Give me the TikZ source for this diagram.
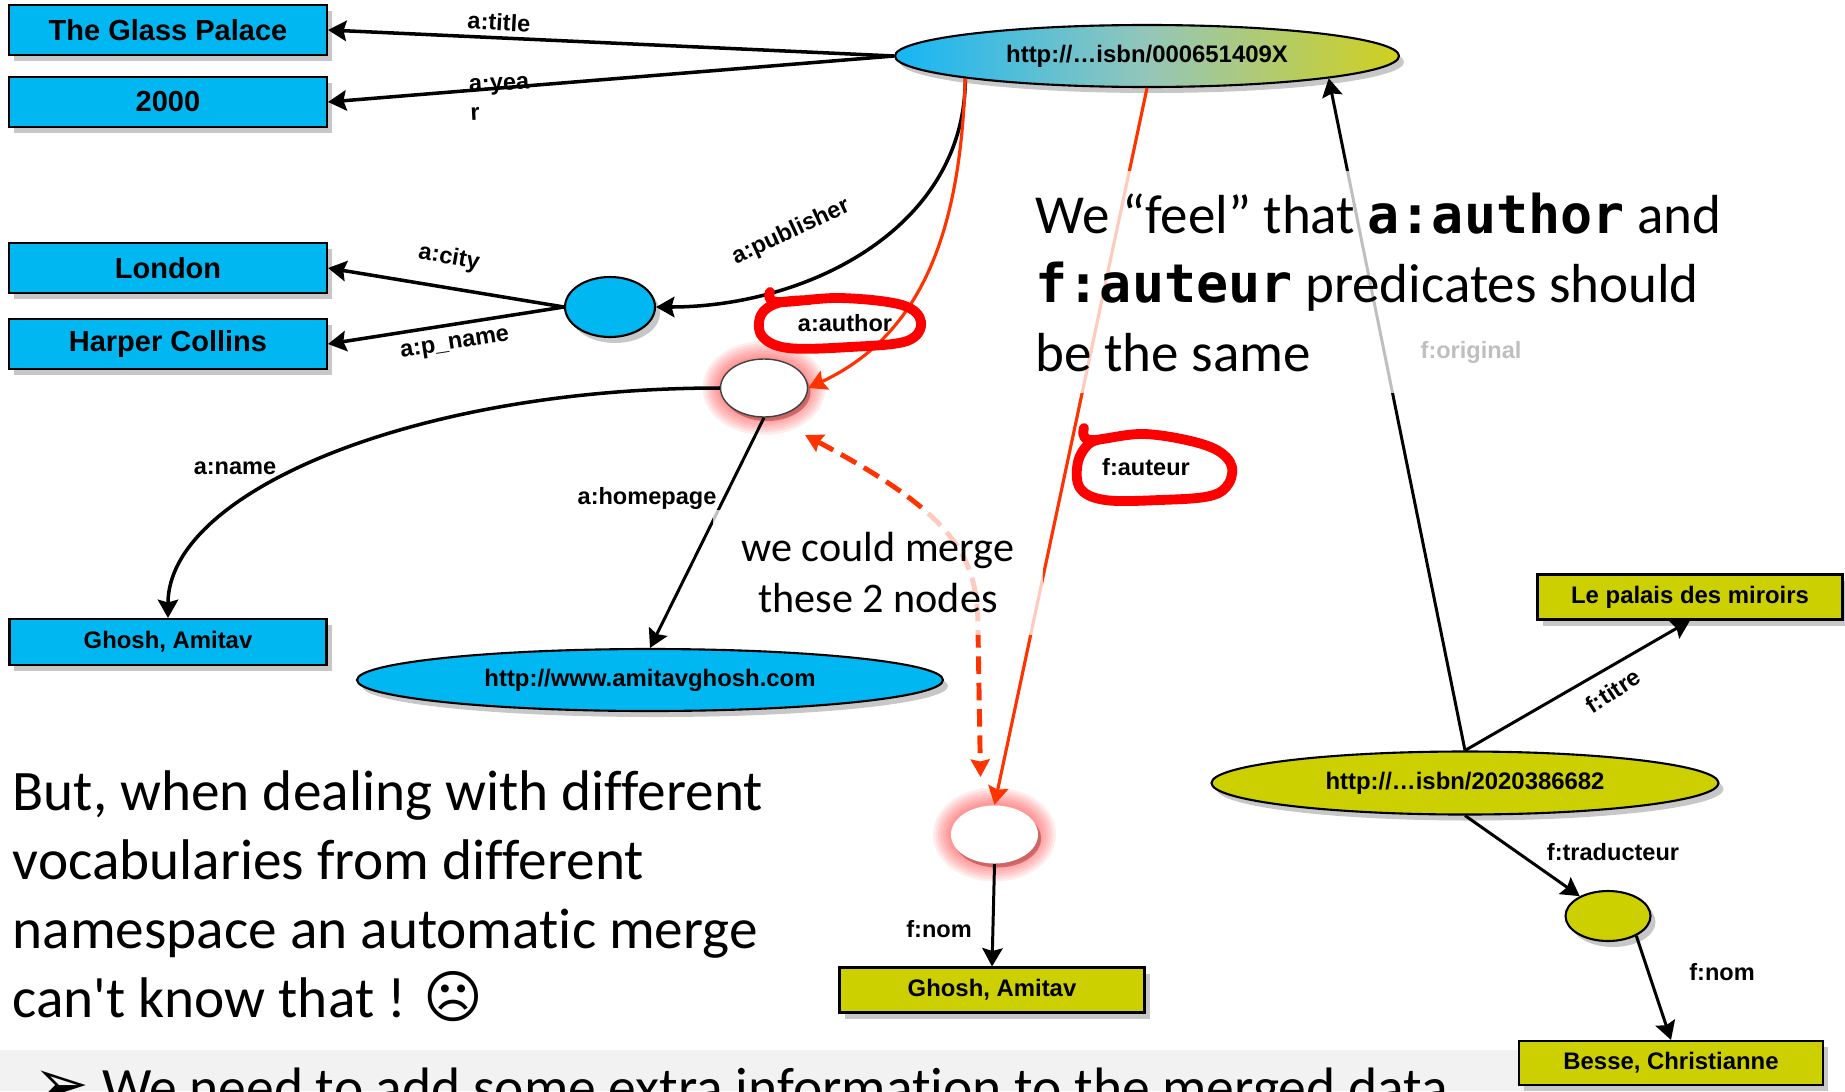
\documentclass[tikz,border=0pt]{standalone}
\usepackage{fontspec}
\setmainfont{Carlito}[Ligatures={TeX,NoCommon}]
\setmonofont{DejaVu Sans Mono}[Scale=0.97]
\newfontfamily\arialfont{Liberation Sans}
\newfontfamily\symbfont{DejaVu Sans}
\usepackage{tikz}
\usetikzlibrary{arrows.meta,positioning,shapes.geometric,shadows,calc}

\definecolor{rdfblue}{RGB}{0,183,242}
\definecolor{rdfyellow}{RGB}{205,208,0}
\definecolor{gradleft}{RGB}{20,182,245}
\definecolor{gradmid}{RGB}{148,198,186}
\definecolor{gradright}{RGB}{208,208,30}
\definecolor{linkred}{RGB}{255,51,0}
\definecolor{penred}{RGB}{255,0,0}
\definecolor{bandgray}{RGB}{242,242,242}

\newcommand{\boxfont}{\arialfont\bfseries\fontsize{8.25}{9.5}\selectfont}
\newcommand{\nodefont}{\arialfont\bfseries\fontsize{6.8}{8}\selectfont}
\newcommand{\lblfont}{\arialfont\bfseries\fontsize{6.7}{8.3}\selectfont}

\begin{document}
\begin{tikzpicture}[
  shadowed/.style={drop shadow={shadow xshift=0.05cm, shadow yshift=-0.06cm, fill=black!22, opacity=1}},
  litbox/.style={draw, line width=0.6pt, fill=rdfblue, inner sep=0pt, minimum width=3.18cm, minimum height=0.50cm, font=\boxfont, shadowed},
  frbox/.style={draw, line width=0.6pt, fill=rdfyellow, inner sep=0pt, minimum width=3.05cm, minimum height=0.45cm, font=\nodefont, shadowed},
  res/.style={ellipse, draw, line width=0.6pt, inner sep=0pt, font=\nodefont, shadowed},
  glowring/.style={preaction={draw=red, draw opacity=0.07, line width=#1}},
  blank/.style={ellipse, fill=white, inner sep=0pt, minimum width=0.87cm, minimum height=0.58cm,
    glowring=0.36cm, glowring=0.31cm, glowring=0.26cm, glowring=0.21cm, glowring=0.16cm, glowring=0.11cm, glowring=0.06cm,
    drop shadow={shadow xshift=0.03cm, shadow yshift=-0.04cm, fill=red!45!black, opacity=0.35}},
  rel/.style={-{Stealth[length=5.2pt,width=5.8pt,inset=0.8pt]}, line width=1pt},
  rel2/.style={rel, line width=0.85pt},
  redrel/.style={-{Stealth[length=5.2pt,width=5.8pt,inset=0.8pt]}, linkred, line width=0.9pt},
  merge/.style={{Stealth[length=5pt,width=5.4pt,inset=0.6pt]}-{Stealth[length=5pt,width=5.4pt,inset=0.6pt]}, linkred, line width=1.4pt, dash pattern=on 5pt off 2.5pt},
  lbl/.style={font=\lblfont, inner sep=0pt},
  scribble/.style={penred, line width=2.8pt, line cap=round, line join=round},
  veil/.style={fill=white, fill opacity=0.75, text opacity=1}
]
  \useasboundingbox (0,0) rectangle (18.45,-10.91);

  % Conclusion band at the foot
  \fill[bandgray] (0,-10.50) rectangle (17.00,-10.91);
  \node[anchor=base west, inner sep=0pt, font=\fontsize{15.8}{19}\selectfont] (needText) at (0.33,-11.06)
    {{\symbfont\fontsize{19}{19}\selectfont ➢} We need to add some extra information to the merged data};

  % English data set
  \node[res, minimum width=5.04cm, minimum height=0.62cm, left color=gradleft, right color=gradright, middle color=gradmid] (book) at (11.47,-0.56) {http://…isbn/000651409X};
  \foreach \name/\y/\txt in {glass/0.30/The Glass Palace, year/1.02/2000, london/2.68/London, harper/3.44/Harper Collins} {
    \node[litbox] (\name) at (1.68,-\y) {\txt};
  }
  \node[res, fill=rdfblue, minimum width=0.90cm, minimum height=0.60cm] (pub) at (6.10,-3.07) {};
  \node[blank, draw=black!75, line width=0.4pt] (authA) at (7.64,-3.88) {};
  \node[litbox, minimum width=3.17cm, minimum height=0.46cm, font=\nodefont] (ghoshA) at (1.68,-6.42) {Ghosh, Amitav};
  \node[res, fill=rdfblue, minimum width=5.86cm, minimum height=0.62cm] (home) at (6.50,-6.80) {http://www.amitavghosh.com};

  % French data set
  \node[res, fill=rdfyellow, minimum width=5.07cm, minimum height=0.63cm] (book2) at (14.65,-7.83) {http://…isbn/2020386682};
  \node[frbox] (palais) at (16.90,-5.97) {Le palais des miroirs};
  \node[blank] (authF) at (9.945,-8.345) {};
  \node[frbox] (ghoshF) at (9.92,-9.90) {Ghosh, Amitav};
  \node[res, fill=rdfyellow, minimum width=0.85cm, minimum height=0.50cm] (trans) at (16.08,-9.16) {};
  \node[frbox, minimum width=3.04cm, minimum height=0.44cm] (besse) at (16.71,-10.63) {Besse, Christianne};

  % Edges
  \draw[rel] (book.west) -- (glass.east);
  \draw[rel] (book.west) -- (year.east);
  \draw[rel] (book.187) to[out=-90,in=0] (pub.east);
  \foreach \dst in {london,harper} {
    \draw[rel] (pub.west) -- (\dst.east);
  }
  \draw[redrel] (book.187) to[out=-92,in=25] (authA.east);
  \draw[rel] (authA.west) .. controls +(-3.05,0) and +(0,1.26) .. (ghoshA.north);
  \draw[rel2] (authA.south) -- (home.north);
  \draw[redrel] (book.south) -- (authF.north);
  \draw[rel2] (authF.south) -- (ghoshF.north);
  \draw[rel2] (book2.north) -- (book.-7);
  \draw[rel2] (book2.north) -- (palais.south);
  \draw[rel2] (book2.south) -- (trans);
  \draw[rel2] (trans.-35) -- (besse.north);

  % Merge hint
  \coordinate (mergeA) at ($(authA)+(0.41,-0.47)$);
  \coordinate (mergeB) at ($(authF)+(-0.14,0.575)$);
  \draw[merge] (mergeA) .. controls (9.60,-5.17) and (9.78,-5.60) .. (9.78,-6.30) -- (mergeB);

  % Edge labels
  \node[lbl, rotate=-3] (lTitle) at (4.99,-0.22) {a:title};
  \node[lbl, anchor=north west, align=left, rotate=3] (lYear) at (4.68,-0.785) {a:yea\\r};
  \node[lbl, rotate=-10] (lCity) at (4.49,-2.58) {a:city};
  \node[lbl, rotate=9] (lPname) at (4.55,-3.45) {a:p\_name};
  \node[lbl, rotate=25] (lPub) at (7.91,-2.32) {a:publisher};
  \node[lbl] (lAuthor) at (8.45,-3.23) {a:author};
  \node[lbl] (lName) at (2.35,-4.68) {a:name};
  \node[lbl] (lHome) at (6.47,-4.98) {a:homepage};
  \node[lbl] (lAuteur) at (11.46,-4.67) {f:auteur};
  \node[lbl] (lOrig) at (14.71,-3.52) {f:original};
  \node[lbl, rotate=33] (lTitre) at (16.13,-6.91) {f:titre};
  \node[lbl] (lTrad) at (16.13,-8.52) {f:traducteur};
  \node[lbl] (lNomF) at (9.39,-9.29) {f:nom};
  \node[lbl] (lNomT) at (17.22,-9.72) {f:nom};

  % Comments
  \node[veil, anchor=north west, align=left, inner xsep=0.10cm, inner ysep=0.22cm, font=\fontsize{15.65}{19.6}\selectfont] (feelText) at (10.25,-1.70)
    {We “feel” that \texttt{\bfseries a:author} and\\\texttt{\bfseries f:auteur} predicates should\\be the same};
  \node[veil, align=center, minimum width=3.30cm, minimum height=1.25cm, inner sep=0pt, font=\fontsize{12}{14.5}\selectfont] (mergeText) at (8.78,-5.725)
    {we could merge\\these 2 nodes};
  \node[anchor=north west, align=left, inner sep=0pt, font=\fontsize{16.3}{19.6}\selectfont] (butText) at (0.12,-7.70)
    {But, when dealing with different\\vocabularies from different\\namespace an automatic merge\\can\textquotesingle t know that ! {\symbfont ☹}};

  % Hand-drawn circles
  \draw[scribble] plot[smooth, tension=0.6] coordinates {(7.70,-2.92) (7.77,-3.02) (8.40,-2.98) (9.02,-3.05) (9.21,-3.22) (9.07,-3.41) (8.50,-3.47) (7.88,-3.48) (7.62,-3.36) (7.61,-3.15) (7.78,-3.03) (8.10,-3.00)};
  \draw[scribble] plot[smooth, tension=0.6] coordinates {(10.84,-4.28) (10.90,-4.40) (11.45,-4.34) (12.05,-4.45) (12.30,-4.62) (12.29,-4.83) (12.10,-4.96) (11.60,-5.00) (11.05,-5.00) (10.80,-4.88) (10.78,-4.62) (10.90,-4.43) (11.10,-4.38)};
\end{tikzpicture}
\end{document}
